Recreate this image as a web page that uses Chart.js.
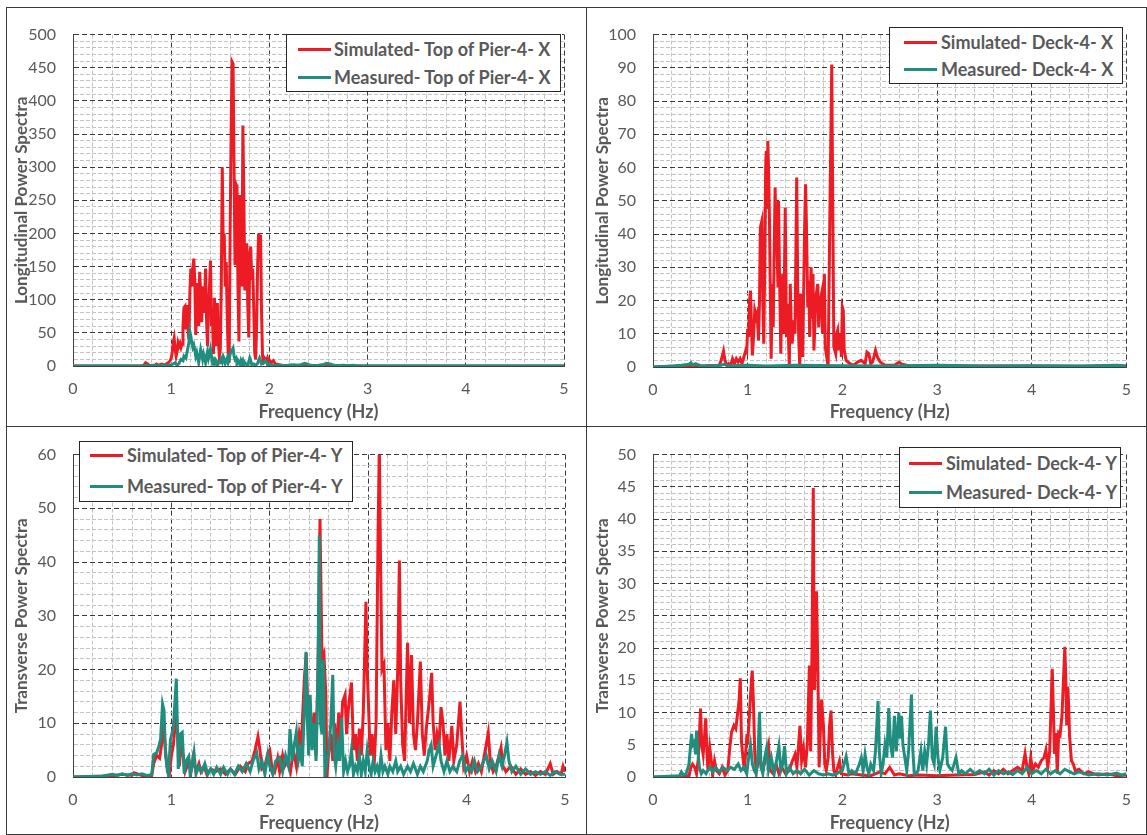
<!DOCTYPE html>
<html>
<head>
<meta charset="utf-8">
<script src="https://cdn.jsdelivr.net/npm/chart.js@4.4.0/dist/chart.umd.min.js"></script>
<style>
  body { margin: 0; background: #fff; }
  #wrap { position: relative; width: 1147px; height: 835px; overflow: hidden; }
  .frame { position: absolute; border: 1px solid #3a3a3a; box-sizing: border-box; }
  .legend { position: absolute; background: #fff; border: 1px solid #262626; box-sizing: border-box; }
  .legend .sw { position: absolute; width: 33px; height: 3px; }
  .legend .tx { position: absolute; transform: translateY(-50%); white-space: nowrap;
                font: bold 18px Lato, "Open Sans", sans-serif; color: #595959; }
</style>
</head>
<body>
<div id="wrap">
  <div class="frame" style="left:6px; top:7px; width:1141px; height:828px;"></div>
  <div class="frame" style="left:586px; top:7px; width:1px; height:828px; border-width:0 0 0 1px;"></div>
  <div class="frame" style="left:6px; top:426px; width:1141px; height:1px; border-width:1px 0 0 0;"></div>
</div>
<script>
// ---- Top of Pier-4, X (longitudinal) ----
const pierX_simF = [0, 0.70, 0.72, 0.74, 0.76, 0.78, 0.80, 0.83, 0.85, 0.87,
  0.90, 0.93, 0.95, 0.97, 0.99,
  1.00, 1.01, 1.02, 1.03, 1.04, 1.05, 1.06, 1.07, 1.08, 1.09,
  1.10, 1.11, 1.12, 1.13, 1.14, 1.15, 1.16, 1.17, 1.18, 1.19,
  1.20, 1.21, 1.22, 1.23, 1.24, 1.25, 1.26, 1.27, 1.28, 1.29,
  1.30, 1.31, 1.32, 1.33, 1.34, 1.35, 1.36, 1.37, 1.38, 1.39,
  1.40, 1.41, 1.42, 1.43, 1.44, 1.45, 1.46, 1.47, 1.48, 1.49,
  1.50, 1.51, 1.52, 1.53, 1.54, 1.55, 1.56, 1.57, 1.58, 1.59,
  1.60, 1.61, 1.62, 1.63, 1.64, 1.65, 1.66, 1.67, 1.68, 1.69,
  1.70, 1.71, 1.72, 1.73, 1.74, 1.75, 1.76, 1.77, 1.78, 1.79,
  1.80, 1.81, 1.82, 1.83, 1.84, 1.85, 1.86, 1.87, 1.88, 1.89,
  1.90, 1.91, 1.92, 1.93, 1.94, 1.95, 1.96, 1.97, 1.98, 1.99,
  2.00, 2.02, 2.04, 2.06, 2.10, 2.15, 2.20, 2.30, 2.35, 2.40,
  2.50, 2.55, 2.60, 2.70, 2.80, 3.00, 5.00];
const pierX_simV = [0, 0, 1, 5, 3, 0.5, 1, 0.5, 3, 1,
  3, 1.5, 3, 5, 8,
  12, 20, 35, 42, 25, 15, 22, 35, 30, 34,
  28, 33, 60, 88, 90, 55, 92, 60, 40, 110,
  147, 120, 148, 162, 130, 47, 95, 125, 60, 142,
  110, 66, 120, 80, 100, 147, 70, 30, 90, 120,
  159, 60, 75, 18, 103, 60, 30, 95, 40, 15,
  24, 120, 300, 180, 200, 120, 157, 80, 20, 5,
  200, 350, 459, 456, 300, 152, 274, 270, 120, 37,
  258, 180, 120, 363, 250, 114, 160, 185, 90, 43,
  170, 180, 130, 147, 90, 20, 10, 60, 150, 200,
  190, 198, 80, 15, 8, 12, 10, 8, 12, 6,
  9, 5, 8, 3, 2, 0.5, 1, 0.5, 2, 1,
  0.5, 2, 1, 0.5, 0.3, 0, 0];
const pierX_meaF = [0, 0.72, 0.75, 0.78, 0.82, 0.86, 0.90, 0.95,
  1.00, 1.02, 1.04, 1.06, 1.08,
  1.10, 1.12, 1.13, 1.15, 1.16, 1.18, 1.19,
  1.20, 1.21, 1.22, 1.23, 1.24, 1.25, 1.26, 1.27, 1.28, 1.29,
  1.30, 1.31, 1.32, 1.33, 1.34, 1.35, 1.36, 1.37, 1.38, 1.39,
  1.40, 1.41, 1.42, 1.43, 1.44, 1.45, 1.46, 1.47, 1.48,
  1.50, 1.51, 1.52, 1.53, 1.54, 1.55, 1.56, 1.57, 1.58, 1.59,
  1.60, 1.62, 1.63, 1.64, 1.65, 1.66, 1.67, 1.68, 1.69,
  1.70, 1.71, 1.72, 1.73, 1.74, 1.75, 1.76, 1.78,
  1.80, 1.81, 1.82, 1.84, 1.86, 1.88,
  1.90, 1.91, 1.92, 1.94, 1.96, 1.97, 1.98,
  2.00, 2.03, 2.06, 2.10, 2.15, 2.20, 2.25, 2.28, 2.32, 2.36, 2.38, 2.42, 2.46,
  2.50, 2.55, 2.58, 2.62, 2.66, 2.70, 2.75, 2.80, 2.86, 2.90, 5.00];
const pierX_meaV = [0, 0, 1.5, 0, 1, 0, 1, 0.5,
  2, 3, 5, 1, 4,
  10, 8, 15, 12, 20, 35, 52,
  45, 35, 28, 32, 25, 15, 20, 12, 5, 15,
  25, 18, 10, 18, 12, 5, 15, 22, 12, 18,
  25, 15, 5, 8, 3, 10, 8, 2, 6,
  5, 10, 6, 14, 10, 4, 8, 12, 5, 10,
  18, 24, 27, 15, 10, 12, 4, 8, 5,
  2, 8, 4, 8, 2, 5, 3, 1,
  12, 8, 2, 3, 1, 4,
  12, 8, 3, 4, 8, 6, 2,
  3, 1, 0.5, 1, 0.5, 1, 2, 1, 2, 4, 3, 1, 0.5,
  1, 2, 4, 3, 1, 0.5, 1, 0.5, 1, 0, 0];

// ---- Deck-4, X (longitudinal) ----
const deckX_simF = [0, 0.30, 0.50, 0.70, 0.72, 0.745, 0.76, 0.78, 0.80, 0.82,
  0.84, 0.86, 0.88, 0.90, 0.92, 0.94, 0.96, 0.98, 0.99,
  1.00, 1.01, 1.02, 1.03, 1.04, 1.05, 1.06, 1.075, 1.09, 1.10,
  1.115, 1.125, 1.134, 1.15, 1.16, 1.17, 1.18, 1.19, 1.196, 1.205,
  1.213, 1.22, 1.23, 1.24, 1.248, 1.26, 1.27, 1.28, 1.29, 1.30,
  1.31, 1.32, 1.326, 1.335, 1.35, 1.36, 1.37, 1.38, 1.397, 1.41,
  1.42, 1.44, 1.45, 1.46, 1.47, 1.49, 1.50, 1.518, 1.53, 1.54,
  1.55, 1.56, 1.58, 1.59, 1.60, 1.611, 1.62, 1.635, 1.645, 1.655,
  1.67, 1.68, 1.69, 1.70, 1.72, 1.74, 1.75, 1.76, 1.78, 1.79,
  1.81, 1.82, 1.84, 1.85, 1.87, 1.888, 1.90, 1.91, 1.93, 1.94,
  1.95, 1.96, 1.98, 1.99, 2.00, 2.01, 2.02, 2.04, 2.08, 2.12,
  2.16, 2.20, 2.24, 2.26, 2.28, 2.30, 2.32, 2.35, 2.37, 2.40,
  2.45, 2.55, 2.60, 2.63, 2.70, 2.90, 3.50, 4.00, 4.50, 5.00];
const deckX_simV = [0, 0.2, 0.3, 0.5, 2, 4.8, 2, 0.5, 1, 0.5,
  2.5, 1, 2.5, 1.5, 2.5, 1, 3, 5, 4.5,
  11.5, 9, 20, 23, 12, 3.5, 8, 17, 15, 16,
  8, 20, 42, 44, 20, 7, 30, 60, 65, 48,
  68, 60, 45, 20, 2.5, 25, 12, 35, 54, 40,
  36, 24, 50, 30, 4, 20, 28, 10, 48, 9,
  19, 0, 25, 12, 7, 14, 10, 57, 20, 8,
  0, 22, 3, 20, 40, 55, 44, 18, 26, 9,
  30, 15, 28, 5, 21, 25, 12, 19, 22, 10,
  28, 6, 2, 0, 50, 91, 44, 6, 4, 10,
  11, 5, 10, 3, 18, 17, 5, 2, 1, 0.5,
  1.5, 2, 1, 4.5, 4, 1, 1.5, 5, 3, 1.5,
  0.5, 0.5, 1.5, 0.8, 0.4, 0.3, 0.3, 0.3, 0.2, 0.3];
const deckX_meaF = [0, 0.20, 0.30, 0.38, 0.40, 0.42, 0.45, 0.50, 0.60, 0.72,
  0.75, 0.80, 1.00, 1.20, 1.50, 2.00, 2.50, 3.00, 3.50, 4.00,
  4.50, 4.90, 5.00];
const deckX_meaV = [0, 0.3, 0.5, 0.8, 1.3, 0.6, 1, 0.4, 0.3, 0.5,
  0.8, 0.4, 0.5, 0.3, 0.5, 0.4, 0.3, 0.5, 0.3, 0.4,
  0.3, 0.5, 0.3];

// ---- Top of Pier-4, Y (transverse) ----
const pierY_simF = [0, 0.40, 0.50, 0.60, 0.62, 0.70, 0.80, 0.82, 0.85, 0.88,
  0.90, 0.92, 0.94, 0.96, 0.98, 1.00, 1.02, 1.04, 1.05, 1.07,
  1.08, 1.10, 1.12, 1.14, 1.16, 1.18, 1.20, 1.22, 1.25, 1.28,
  1.30, 1.33, 1.36, 1.40, 1.45, 1.50, 1.55, 1.60, 1.65, 1.70,
  1.75, 1.78, 1.82, 1.85, 1.88, 1.90, 1.92, 1.95, 1.98, 2.00,
  2.02, 2.05, 2.08, 2.10, 2.13, 2.15, 2.18, 2.21, 2.24, 2.27,
  2.30, 2.32, 2.35, 2.37, 2.39, 2.41, 2.43, 2.45, 2.47, 2.49,
  2.51, 2.53, 2.55, 2.57, 2.58, 2.60, 2.62, 2.64, 2.66, 2.68,
  2.70, 2.72, 2.74, 2.765, 2.78, 2.80, 2.83, 2.85, 2.87, 2.89,
  2.91, 2.93, 2.95, 2.977, 2.99, 3.00, 3.02, 3.04, 3.06, 3.08,
  3.10, 3.113, 3.125, 3.14, 3.16, 3.18, 3.20, 3.22, 3.24, 3.26,
  3.28, 3.30, 3.317, 3.33, 3.35, 3.37, 3.40, 3.42, 3.44, 3.46,
  3.48, 3.50, 3.53, 3.55, 3.57, 3.59, 3.62, 3.645, 3.66, 3.68,
  3.70, 3.72, 3.74, 3.76, 3.78, 3.80, 3.82, 3.85, 3.87, 3.90,
  3.933, 3.95, 3.97, 4.00, 4.03, 4.06, 4.09, 4.12, 4.15, 4.18,
  4.22, 4.24, 4.27, 4.30, 4.33, 4.35, 4.37, 4.40, 4.45, 4.50,
  4.55, 4.60, 4.65, 4.70, 4.75, 4.80, 4.85, 4.88, 4.92, 4.96,
  4.98, 5.00];
const pierY_simV = [0, 0.2, 0.5, 0.3, 0.8, 0.3, 0.3, 2.5, 4, 3.5,
  6, 10, 5, 1, 0.5, 4, 6, 10, 12, 6,
  2, 6, 4, 1, 2, 3, 1, 3.5, 1, 2.5,
  1, 2, 0.5, 1.5, 1, 1.5, 0.5, 1.5, 0.5, 2,
  1, 2.5, 3, 5, 7.5, 5, 1.5, 2, 4.5, 5,
  2, 1, 3.5, 1, 4, 2, 3, 1, 5, 2,
  8, 6, 18, 23, 10, 13, 6, 12, 4, 20,
  48, 22, 23, 15, 0, 5, 8, 3, 10, 3,
  12, 6, 14, 15.3, 8, 13, 17.6, 5, 8, 3,
  9, 4, 12, 32.6, 20, 15, 4, 8, 2, 10,
  45, 62, 41, 20, 21, 5, 10, 3, 12, 18,
  8, 20, 40.3, 18, 6, 3, 25, 10, 22.7, 8,
  5, 10, 21.5, 8, 4, 9, 14, 19.4, 10, 5,
  8, 6, 13, 10, 4, 8, 3, 9.5, 3, 6,
  14, 8, 2, 4, 1, 3, 1, 2.5, 1, 4,
  8.2, 3, 1, 2, 4, 5.5, 2, 1, 2, 0.5,
  1.5, 0.5, 1, 0.3, 1, 0.5, 2.5, 0.5, 1, 0.5,
  2, 1];
const pierY_meaF = [0, 0.30, 0.40, 0.45, 0.50, 0.55, 0.60, 0.65, 0.70, 0.75,
  0.80, 0.82, 0.85, 0.87, 0.89, 0.91, 0.925, 0.94, 0.97, 0.99,
  1.02, 1.05, 1.07, 1.09, 1.11, 1.13, 1.15, 1.176, 1.19, 1.21,
  1.23, 1.25, 1.28, 1.31, 1.34, 1.37, 1.40, 1.43, 1.46, 1.50,
  1.53, 1.57, 1.60, 1.64, 1.68, 1.72, 1.76, 1.80, 1.83, 1.867,
  1.89, 1.92, 1.95, 1.98, 2.00, 2.03, 2.06, 2.10, 2.13, 2.16,
  2.19, 2.205, 2.23, 2.25, 2.27, 2.29, 2.31, 2.33, 2.35, 2.368,
  2.38, 2.395, 2.41, 2.43, 2.45, 2.47, 2.49, 2.503, 2.515, 2.53,
  2.544, 2.56, 2.58, 2.60, 2.62, 2.64, 2.655, 2.67, 2.69, 2.71,
  2.73, 2.75, 2.77, 2.79, 2.81, 2.83, 2.85, 2.87, 2.89, 2.91,
  2.93, 2.95, 2.97, 2.99, 3.01, 3.03, 3.05, 3.07, 3.09, 3.11,
  3.13, 3.15, 3.17, 3.20, 3.22, 3.25, 3.28, 3.30, 3.33, 3.36,
  3.40, 3.43, 3.46, 3.50, 3.53, 3.56, 3.60, 3.62, 3.64, 3.66,
  3.69, 3.72, 3.74, 3.77, 3.80, 3.83, 3.86, 3.90, 3.93, 3.96,
  3.99, 4.02, 4.05, 4.08, 4.11, 4.15, 4.20, 4.23, 4.26, 4.30,
  4.33, 4.36, 4.39, 4.41, 4.43, 4.46, 4.50, 4.55, 4.60, 4.65,
  4.70, 4.75, 4.80, 4.85, 4.90, 4.95, 5.00];
const pierY_meaV = [0, 0.2, 0.5, 0.3, 0.6, 0.3, 0.6, 0.4, 0.6, 0.3,
  0.4, 4.2, 4.5, 5.6, 7, 13.6, 12.4, 4, 0.3, 6.9,
  9.2, 18.3, 1.5, 8, 8.3, 0.6, 3, 3.8, 0.5, 2,
  4.5, 0.5, 2, 1, 2.5, 0.5, 1.5, 0.5, 1.8, 0.5,
  1.8, 0.5, 1.5, 0.5, 2, 1, 2.5, 1, 3, 4.5,
  1.5, 3, 0.5, 4.2, 2, 0.5, 3, 3.6, 1, 4,
  2, 8.9, 3, 6, 8.4, 3, 5, 2, 12, 23.3,
  11.2, 4, 15.3, 5, 10, 3, 20, 45, 10, 8,
  21.8, 0, 3, 5, 10, 19, 4, 2, 6, 3,
  11, 1, 3, 1, 2, 5, 0.5, 2, 1, 4,
  0.5, 3, 1, 5, 2, 0.5, 3, 1, 2, 0.5,
  4, 1, 2, 0.5, 2, 1, 3, 1, 2, 0.5,
  2, 1, 2.5, 0.5, 2, 1, 3, 5, 6, 2,
  4, 6, 3, 1, 3, 1, 2, 1, 3, 4,
  1, 2, 1, 3, 1, 2, 4, 1.5, 3, 1,
  4, 2, 4.5, 6.5, 3, 1, 2, 0.5, 1.5, 0.5,
  1, 0.5, 1, 0.3, 1, 0.5, 0.5];

// ---- Deck-4, Y (transverse) ----
const deckY_simF = [0, 0.30, 0.38, 0.40, 0.418, 0.44, 0.46, 0.48, 0.502, 0.515,
  0.53, 0.54, 0.557, 0.57, 0.58, 0.60, 0.62, 0.63, 0.65, 0.67,
  0.70, 0.73, 0.76, 0.79, 0.81, 0.83, 0.855, 0.875, 0.895, 0.91,
  0.922, 0.935, 0.95, 0.965, 0.98, 0.993, 1.00, 1.02, 1.04, 1.048,
  1.06, 1.075, 1.09, 1.11, 1.13, 1.16, 1.19, 1.22, 1.24, 1.27,
  1.30, 1.33, 1.36, 1.40, 1.44, 1.47, 1.50, 1.52, 1.552, 1.57,
  1.59, 1.61, 1.63, 1.652, 1.665, 1.68, 1.693, 1.705, 1.715, 1.727,
  1.74, 1.755, 1.77, 1.78, 1.80, 1.815, 1.83, 1.85, 1.865, 1.88,
  1.895, 1.91, 1.93, 1.95, 1.97, 1.99, 2.05, 2.10, 2.20, 2.30,
  2.40, 2.45, 2.50, 2.55, 2.60, 2.70, 2.80, 3.00, 3.20, 3.40,
  3.50, 3.55, 3.60, 3.65, 3.70, 3.75, 3.80, 3.85, 3.90, 3.93,
  3.95, 3.97, 3.99, 4.01, 4.04, 4.07, 4.10, 4.13, 4.15, 4.17,
  4.19, 4.217, 4.23, 4.24, 4.255, 4.27, 4.285, 4.30, 4.32, 4.35,
  4.36, 4.37, 4.38, 4.39, 4.40, 4.42, 4.44, 4.46, 4.50, 4.55,
  4.60, 4.70, 4.80, 4.90, 5.00];
const deckY_simV = [0, 0, 0.2, 1.5, 2, 1.5, 0.5, 3, 10.6, 5,
  3.5, 5.4, 9.1, 4, 1, 4.5, 2, 0.3, 2.5, 1,
  0.5, 1.5, 0.3, 1, 4.4, 7, 8, 7.5, 10, 12,
  15.3, 5.4, 3, 1, 4, 6.7, 5, 10, 15, 16.5,
  11.9, 3.6, 1, 2, 3, 1, 3, 5, 1, 0.5,
  2, 0.5, 1.5, 0.5, 1, 2.4, 3.5, 1.5, 7.9, 2.5,
  4.4, 1.5, 5, 17.3, 4, 20, 44.8, 13.5, 20, 28.8,
  18, 1.5, 8, 12, 8, 2, 1, 3, 8, 10.3,
  4, 1, 0.3, 1.5, 2.5, 0.5, 0.3, 0.5, 0.3, 0.2,
  0.8, 0.5, 1.5, 0.3, 0.5, 0.2, 0.3, 0.2, 0.3, 0.4,
  0.8, 0.3, 1, 0.5, 1.2, 0.5, 1, 1.5, 1, 3.6,
  1.5, 0.5, 3, 1, 2, 1.5, 2.5, 3, 4.2, 1.5,
  4, 16.8, 10, 3.6, 6.8, 0.5, 6.8, 6.5, 9.5, 20.2,
  15.3, 8, 14, 11.3, 6.4, 2.5, 2, 1, 1.2, 0.5,
  0.8, 0.3, 0.5, 0.2, 0.3];
const deckY_meaF = [0, 0.28, 0.30, 0.32, 0.35, 0.38, 0.407, 0.42, 0.435, 0.45,
  0.46, 0.475, 0.49, 0.51, 0.53, 0.56, 0.60, 0.63, 0.66, 0.70,
  0.74, 0.78, 0.82, 0.86, 0.90, 0.93, 0.96, 0.99, 1.01, 1.03,
  1.05, 1.07, 1.09, 1.11, 1.125, 1.14, 1.16, 1.18, 1.20, 1.22,
  1.25, 1.28, 1.31, 1.33, 1.35, 1.37, 1.39, 1.41, 1.44, 1.48,
  1.52, 1.56, 1.60, 1.65, 1.70, 1.75, 1.80, 1.85, 1.90, 1.95,
  2.00, 2.04, 2.07, 2.10, 2.14, 2.18, 2.20, 2.22, 2.24, 2.26,
  2.28, 2.30, 2.33, 2.35, 2.377, 2.39, 2.41, 2.43, 2.45, 2.47,
  2.49, 2.51, 2.53, 2.55, 2.57, 2.597, 2.61, 2.625, 2.64, 2.66,
  2.68, 2.70, 2.73, 2.745, 2.76, 2.78, 2.80, 2.83, 2.85, 2.87,
  2.89, 2.91, 2.93, 2.95, 2.97, 2.99, 3.01, 3.03, 3.06, 3.09,
  3.11, 3.13, 3.16, 3.20, 3.23, 3.26, 3.30, 3.35, 3.40, 3.45,
  3.50, 3.55, 3.60, 3.65, 3.70, 3.75, 3.80, 3.85, 3.90, 3.95,
  4.00, 4.05, 4.10, 4.15, 4.20, 4.25, 4.30, 4.35, 4.40, 4.45,
  4.50, 4.60, 4.70, 4.80, 4.90, 4.95, 5.00];
const deckY_meaV = [0, 0.2, 0.8, 0.3, 0.5, 2, 6.7, 5, 5.4, 3.5,
  7.2, 4, 1.5, 0.5, 1, 0.5, 1.5, 0.8, 1.5, 0.8,
  1.5, 1, 1.5, 1.2, 2, 1, 1.5, 0.5, 3, 5,
  2, 1, 0.5, 4, 10.1, 1.5, 0.5, 3, 4.5, 1,
  3, 0.5, 3, 4.8, 1, 2, 4.8, 0.5, 1.5, 0.5,
  1, 0.5, 1.2, 0.3, 1, 0.5, 0.3, 0.5, 0.3, 0.6,
  1, 3.2, 0.5, 1, 0.5, 2, 3, 1, 3.5, 1.5,
  0.5, 2, 1, 4, 11.8, 4, 0.5, 2, 5, 3,
  10.7, 5, 3, 9.5, 4, 10, 6, 9.5, 5, 3,
  1, 4, 12.8, 4, 0.5, 0.5, 1, 4, 1, 4,
  2, 5, 10.3, 3, 2, 7.8, 3, 1, 3, 7.8,
  2, 1.5, 1, 3, 0.5, 1, 0.5, 1.2, 0.5, 1,
  0.5, 1.2, 0.3, 1, 0.5, 0.8, 0.4, 1, 0.5, 1.5,
  0.5, 1, 0.5, 1.2, 0.5, 1, 0.5, 1.2, 0.8, 0.5,
  0.8, 0.3, 0.5, 0.3, 0.6, 0.3, 0.5];

// tick labels
const freqTicks = [0, 1, 2, 3, 4, 5];
const pierX_yTicks = [0, 50, 100, 150, 200, 250, 300, 350, 400, 450, 500];
const deckX_yTicks = [0, 10, 20, 30, 40, 50, 60, 70, 80, 90, 100];
const pierY_yTicks = [0, 10, 20, 30, 40, 50, 60];
const deckY_yTicks = [0, 5, 10, 15, 20, 25, 30, 35, 40, 45, 50];

const RED = '#ed1c24';
const TEAL = '#1f8e7f';
const GREY = '#595959';
const FONT = 'Lato, "Open Sans", sans-serif';

// box: canvas left/top/width/height; area: plot left/top/right/bottom inside canvas
const panels = [
  { box: [7, 8, 579, 418], area: [66, 10, 557, 358], xTitlePad: 3,
    yTitle: 'Longitudinal Power Spectra', yTicks: pierX_yTicks, yMinor: 10,
    series: [['Simulated- Top of Pier-4- X', pierX_simF, pierX_simV],
             ['Measured- Top of Pier-4- X', pierX_meaF, pierX_meaV]],
    legend: { x: 286, y: 34, w: 275, h: 58, r1: 15, r2: 43, sx: 11, tx: 47 } },
  { box: [588, 8, 556, 418], area: [65, 9, 547, 359], xTitlePad: 3,
    yTitle: 'Longitudinal Power Spectra', yTicks: deckX_yTicks, yMinor: 2,
    series: [['Simulated- Deck-4- X', deckX_simF, deckX_simV],
             ['Measured- Deck-4- X', deckX_meaF, deckX_meaV]],
    legend: { x: 889, y: 27, w: 234, h: 57, r1: 15, r2: 42, sx: 14, tx: 51 } },
  { box: [7, 428, 579, 405], area: [66, 9, 558, 349], xTitlePad: -1,
    yTitle: 'Transverse Power Spectra', yTicks: pierY_yTicks, yMinor: 2,
    series: [['Simulated- Top of Pier-4- Y', pierY_simF, pierY_simV],
             ['Measured- Top of Pier-4- Y', pierY_meaF, pierY_meaV]],
    legend: { x: 79, y: 441, w: 274, h: 61, r1: 14, r2: 45, sx: 10, tx: 47 } },
  { box: [588, 428, 556, 405], area: [65, 10, 547, 349], xTitlePad: -1,
    yTitle: 'Transverse Power Spectra', yTicks: deckY_yTicks, yMinor: 1,
    series: [['Simulated- Deck-4- Y', deckY_simF, deckY_simV],
             ['Measured- Deck-4- Y', deckY_meaF, deckY_meaV]],
    legend: { x: 899, y: 447, w: 222, h: 61, r1: 16, r2: 45, sx: 9, tx: 46 } }
];

const wrap = document.getElementById('wrap');
const isMajor = (list, v) => list.some(t => Math.abs(t - v) < 1e-6);

function gridStyle(list) {
  return {
    color: c => (c.tick && isMajor(list, c.tick.value)) ? '#3a3a3a' : '#c3c3c3',
    lineWidth: 1,
    drawTicks: false
  };
}
function borderStyle(list) {
  return {
    display: true, color: '#404040', width: 1,
    dash: c => !c.tick ? [] : (isMajor(list, c.tick.value) ? [5, 3] : [4, 2])
  };
}

function makePanel(p) {
  p.series.forEach(s => {
    if (s[1].length !== s[2].length) throw new Error(s[0] + ': ' + s[1].length + ' vs ' + s[2].length);
  });
  const cv = document.createElement('canvas');
  cv.width = p.box[2];
  cv.height = p.box[3];
  cv.style.cssText = `position:absolute; left:${p.box[0]}px; top:${p.box[1]}px;`;
  wrap.appendChild(cv);

  const yMax = p.yTicks[p.yTicks.length - 1];
  const chart = new Chart(cv, {
    type: 'line',
    data: {
      datasets: p.series.map((s, i) => ({
        label: s[0],
        data: s[1].map((f, k) => ({ x: f, y: s[2][k] })),
        borderColor: i ? TEAL : RED,
        borderWidth: 3,
        pointRadius: 0,
        tension: 0,
        fill: false,
        order: i ? 0 : 1
      }))
    },
    options: {
      responsive: false,
      animation: false,
      layout: { padding: { left: 0, top: p.area[1], right: p.box[2] - p.area[2], bottom: 0 } },
      plugins: { legend: { display: false }, tooltip: { enabled: false } },
      scales: {
        x: {
          type: 'linear', min: 0, max: 5,
          ticks: { stepSize: 0.2, autoSkip: false, maxRotation: 0, padding: 13, color: GREY,
                   font: { family: FONT, size: 16 },
                   callback: v => isMajor(freqTicks, v) ? String(Math.round(v)) : '' },
          grid: gridStyle(freqTicks),
          border: borderStyle(freqTicks),
          title: { display: true, text: 'Frequency (Hz)', color: GREY,
                   font: { family: FONT, size: 18, weight: 'bold' },
                   padding: { top: 0, bottom: p.xTitlePad } },
          afterFit: s => { s.height = p.box[3] - p.area[3]; }
        },
        y: {
          min: 0, max: yMax,
          ticks: { stepSize: p.yMinor, autoSkip: false, padding: 17, color: GREY,
                   font: { family: FONT, size: 16 },
                   callback: v => isMajor(p.yTicks, v) ? String(Math.round(v)) : '' },
          grid: gridStyle(p.yTicks),
          border: borderStyle(p.yTicks),
          title: { display: true, text: p.yTitle, color: GREY,
                   font: { family: FONT, size: 17, weight: 'bold' },
                   padding: { top: 4, bottom: 0 } },
          afterFit: s => { s.width = p.area[0]; }
        }
      }
    }
  });
  addLegend(chart, p.legend);
}

function addLegend(chart, L) {
  const box = document.createElement('div');
  box.className = 'legend';
  box.style.cssText = `left:${L.x}px; top:${L.y}px; width:${L.w}px; height:${L.h}px;`;
  chart.data.datasets.forEach((ds, i) => {
    const cy = i ? L.r2 : L.r1;
    const sw = document.createElement('div');
    sw.className = 'sw';
    sw.style.cssText = `left:${L.sx}px; top:${cy - 2}px; background:${ds.borderColor};`;
    const tx = document.createElement('div');
    tx.className = 'tx';
    tx.style.cssText = `left:${L.tx}px; top:${cy - 1}px;`;
    tx.textContent = ds.label;
    box.appendChild(sw);
    box.appendChild(tx);
  });
  wrap.appendChild(box);
}

panels.forEach(makePanel);
</script>
</body>
</html>
